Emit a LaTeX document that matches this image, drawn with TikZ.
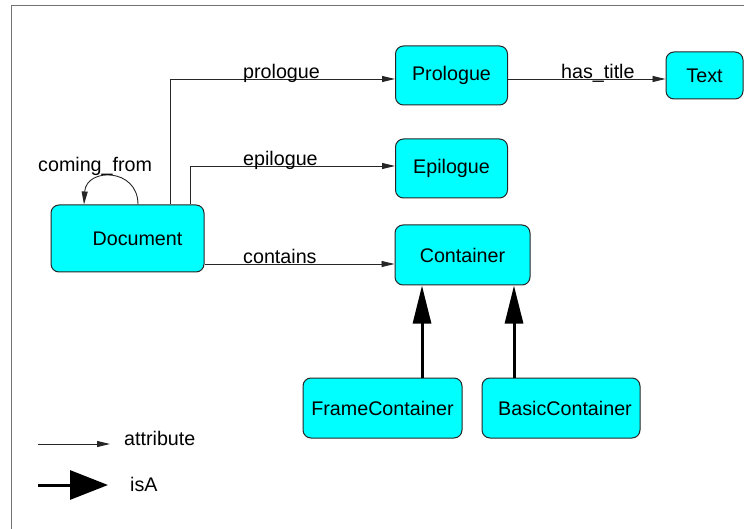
\documentclass[tikz,border=0pt]{standalone}
\usepackage{fontspec}
\setmainfont{Liberation Sans}
\usetikzlibrary{arrows.meta}
\begin{document}
\begin{tikzpicture}[x=1pt,y=-1pt,
  every node/.style={font=\fontsize{19.7}{23}\selectfont, inner sep=0pt},
  cbox/.style={draw=black!85, line width=1pt, fill={rgb,255:red,0;green,255;blue,255}, rounded corners=8pt},
  attr/.style={draw=black!85, line width=0.9pt, -{Triangle[length=13pt,width=6pt]}},
  isa/.style={draw=black, line width=3pt, -{Triangle[length=38pt,width=18pt]}},
  lbl/.style={anchor=base west}
]
\useasboundingbox (0,0) rectangle (744,529);
\clip (0,0) rectangle (744,529);
\draw[black!55, line width=1pt] (11,5.5) rectangle (800,600);

% boxes
\node[cbox, minimum width=153pt, minimum height=67pt] (doc) at (127.5,238.5) {\hspace*{20pt}Document};
\node[cbox, minimum width=112pt, minimum height=59pt] (pro) at (451.5,75.5) {Prologue};
\node[cbox, minimum width=112pt, minimum height=59pt] (epi) at (451.5,168.5) {Epilogue};
\node[cbox, minimum width=135pt, minimum height=60pt] (con) at (462.5,255) {Container};
\node[cbox, minimum width=77pt, minimum height=47pt] (txt) at (704.5,75.5) {Text};
\node[cbox, minimum width=159pt, minimum height=60pt] (fc) at (382.5,408) {FrameContainer};
\node[cbox, minimum width=158pt, minimum height=60pt] (bc) at (561,408) {\hspace*{8pt}BasicContainer};

% attribute connectors
\draw[attr] ([xshift=42.5pt]doc.north) |- ([yshift=-3.5pt]pro.west);
\draw[attr] ([xshift=62.5pt]doc.north) |- ([yshift=2.5pt]epi.west);
\draw[attr] ([yshift=-25.5pt]doc.east) coordinate (c1) -- (c1 -| con.west);
\draw[attr] ([yshift=-3.5pt]pro.east) coordinate (c2) -- (c2 -| txt.west);
\draw[attr] ([xshift=10.5pt]doc.north) .. controls ([xshift=10.5pt,yshift=37pt]doc.north) and ([xshift=-41.5pt,yshift=37pt]doc.north) .. ([xshift=-43.5pt]doc.north);

% isA connectors
\draw[isa] ([xshift=39.5pt]fc.north) coordinate (f1) -- (f1 |- con.south);
\draw[isa] ([xshift=-47pt]bc.north) coordinate (b1) -- (b1 |- con.south);

% labels
\node[lbl] (lpro) at (243,79) {prologue};
\node[lbl] (lepi) at (243,166) {epilogue};
\node[lbl] (lcon) at (243,264) {contains};
\node[lbl] (lhas) at (561,79) {has\_title};
\node[lbl] (lcom) at (38,172) {coming\_from};

% legend
\coordinate (la1) at (38,444);
\coordinate (la2) at (110,444);
\coordinate (li1) at (38,485);
\coordinate (li2) at (108,485);
\draw[attr] (la1) -- (la2);
\draw[draw=black, line width=3pt, -{Triangle[length=38pt,width=29pt]}] (li1) -- (li2);
\node[lbl] (latt) at (124,445) {attribute};
\node[lbl] (lisa) at (130,491) {isA};
\end{tikzpicture}
\end{document}
